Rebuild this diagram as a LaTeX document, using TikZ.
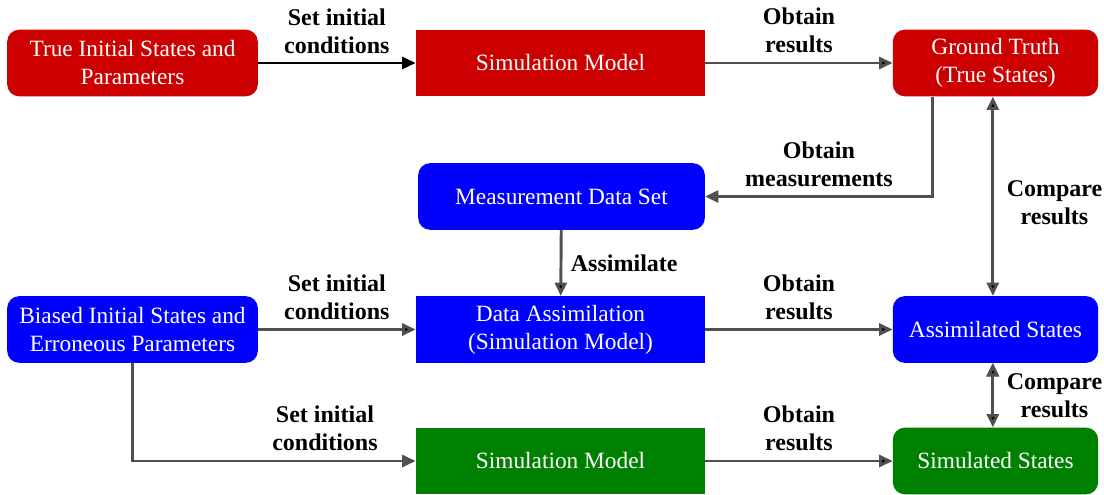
\documentclass[tikz,border=0pt]{standalone}
\usepackage{fontspec}
\setmainfont{Liberation Serif}
\usetikzlibrary{arrows.meta}
\definecolor{boxred}{RGB}{204,0,0}
\definecolor{boxblue}{RGB}{0,0,255}
\definecolor{boxgreen}{RGB}{0,128,0}
\definecolor{arrowgray}{RGB}{80,80,80}
\begin{document}
\begin{tikzpicture}[x=0.75pt, y=-0.75pt, font=\fontsize{17.5}{21}\selectfont]
		\tikzstyle{block} = [rectangle,text=white,align=center,inner sep=0pt,minimum height=50pt]
		\tikzstyle{rblock} = [block,rounded corners=9pt]
		\tikzstyle{lbl} = [font=\fontsize{18}{21}\selectfont\bfseries,align=center,text=black]
		\tikzstyle{flow} = [-{Triangle[length=10pt,width=9pt]},line width=2.2pt,draw=arrowgray]
		\tikzstyle{twoway} = [{Triangle[length=10pt,width=9pt]}-{Triangle[length=10pt,width=9pt]},line width=2.2pt,draw=arrowgray]
		\useasboundingbox (0,0) rectangle (1104,495);
		% top row: ground truth run
		\node[rblock,fill=boxred,minimum width=188pt] at (132.5,63)(trueinit){True Initial States and\\Parameters};
		\node[block,fill=boxred,minimum width=217pt] at (560.5,63)(simtrue){Simulation Model};
		\node[rblock,fill=boxred,minimum width=154pt] at (995.5,63)(truth){Ground Truth\\(True States)};
		% measurements
		\node[rblock,fill=boxblue,minimum width=215pt] at (561.5,196.5)(meas){Measurement Data Set};
		% middle row: assimilation run
		\node[rblock,fill=boxblue,minimum width=188pt] at (132.5,329.5)(biasinit){Biased Initial States and\\Erroneous Parameters};
		\node[block,fill=boxblue,minimum width=217pt] at (560.5,329.5)(assim){Data Assimilation\\(Simulation Model)};
		\node[rblock,fill=boxblue,minimum width=154pt] at (995.5,329.5)(assimst){Assimilated States};
		% bottom row: free run
		\node[block,fill=boxgreen,minimum width=217pt] at (560.5,461)(simfree){Simulation Model};
		\node[rblock,fill=boxgreen,minimum width=154pt] at (995.5,461)(simst){Simulated States};
		\path[flow,draw=black,line width=1.8pt] (trueinit) edge node[lbl,above=3pt]{Set initial\\conditions} (simtrue);
		\path[flow] (simtrue) edge node[lbl,above=3pt]{Obtain\\results} (truth)
		(meas) edge node[lbl,right=3pt]{Assimilate} (assim)
		(biasinit) edge node[lbl,above=3pt]{Set initial\\conditions} (assim)
		(assim) edge node[lbl,above=3pt]{Obtain\\results} (assimst)
		(simfree) edge node[lbl,above=3pt]{Obtain\\results} (simst);
		\draw[flow] ([xshift=-47pt]truth.south) |- node[lbl,pos=0.75,above=3pt]{Obtain\\measurements} (meas.east);
		\draw[flow] (biasinit.south) |- node[lbl,pos=0.84,above=3pt]{Set initial\\conditions} (simfree.west);
		\path[twoway] ([xshift=-2pt]truth.south) edge node[lbl,right=6pt,yshift=-5pt]{Compare\\results} ([xshift=-2pt]assimst.north)
		([xshift=-2pt]assimst.south) edge node[lbl,right=6pt]{Compare\\results} ([xshift=-2pt]simst.north);
\end{tikzpicture}
\end{document}
